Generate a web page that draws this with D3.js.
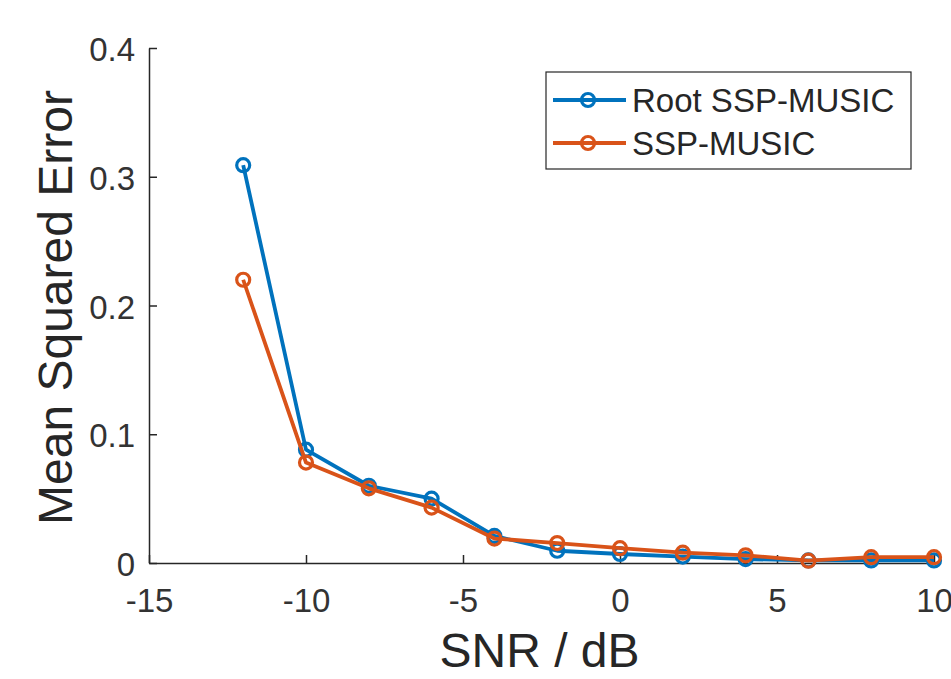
<!DOCTYPE html>
<html>
<head>
<meta charset="utf-8">
<script src="https://cdn.jsdelivr.net/npm/d3@7"></script>
<style>
  body { margin:0; background:#fff; }
  svg text { font-family: "Liberation Sans", Arial, sans-serif; fill:#262626; }
  .axis path, .axis line { stroke:#262626; stroke-width:1.5; }
  .axis text { font-size:33px; fill:#333; }
</style>
</head>
<body>
<svg id="msegraph"></svg>
<script>
// SNR values in dB
var snr = [-12,-10,-8,-6,-4,-2,0,2,4,6,8,10]
// mean squared error of each method
var rootSSP = [0.309,0.088,0.060,0.050,0.021,0.0095,0.007,0.005,0.003,0.002,0.002,0.002]
var ssp = [0.220,0.078,0.058,0.043,0.019,0.0155,0.0115,0.008,0.006,0.0018,0.0045,0.0045]
var xTicks = [-15,-10,-5,0,5,10]
var yTicks = [0,0.1,0.2,0.3,0.4]
var seriesNames = ["Root SSP-MUSIC","SSP-MUSIC"]
var seriesColors = ["#0072BD","#D95319"]

var initMseGraph = function()
{
    var screen = {width:951,height:679}
    var margins = {left:149,right:17,top:48,bottom:116}
    var graph = {
        width:screen.width-margins.left-margins.right,
        height:screen.height-margins.top-margins.bottom
    }

    var svg = d3.select("#msegraph")
                .attr("width",screen.width)
                .attr("height",screen.height)

    var xScale = d3.scaleLinear().domain([-15,10]).range([0,graph.width])
    var yScale = d3.scaleLinear().domain([0,0.4]).range([graph.height,0])

    var target = svg.append("g")
                    .attr("transform","translate("+margins.left+","+margins.top+")")

    //axes, ticks point inward like matlab
    var xAxis = d3.axisBottom(xScale).tickValues(xTicks).tickSizeInner(-8).tickSizeOuter(0)
                  .tickPadding(26).tickFormat(function(d){return String(d)})
    target.append("g")
          .classed("axis",true)
          .attr("transform","translate(0,"+graph.height+")")
          .call(xAxis)

    var yAxis = d3.axisLeft(yScale).tickValues(yTicks).tickSizeInner(-8).tickSizeOuter(0)
                  .tickPadding(14).tickFormat(function(d){return d==0?"0":d3.format(".1f")(d)})
    var yg = target.append("g")
          .classed("axis",true)
          .call(yAxis)
    yg.selectAll(".tick text").attr("dy","0.38em")

    target.selectAll(".axis .domain").attr("fill","none")

    //lines
    var data = [rootSSP,ssp]
    var line = d3.line()
                 .x(function(d,i){return xScale(snr[i])})
                 .y(function(d){return yScale(d)})

    data.forEach(function(values,k)
    {
        var g = target.append("g")
        g.append("path")
         .datum(values)
         .attr("d",line)
         .attr("fill","none")
         .attr("stroke",seriesColors[k])
         .attr("stroke-width",3.8)
         .attr("stroke-linejoin","round")
        g.selectAll("circle")
         .data(values)
         .enter()
         .append("circle")
         .attr("cx",function(d,i){return xScale(snr[i])})
         .attr("cy",function(d){return yScale(d)})
         .attr("r",6.5)
         .attr("fill","none")
         .attr("stroke",seriesColors[k])
         .attr("stroke-width",3.2)
    })

    //labels
    svg.append("text")
       .text("SNR / dB")
       .attr("text-anchor","middle")
       .attr("font-size",48)
       .attr("x",margins.left+graph.width/2 - 2)
       .attr("y",667)

    svg.append("g")
       .attr("transform","translate(72,"+(margins.top+graph.height/2+2)+")")
       .append("text")
       .text("Mean Squared Error")
       .attr("text-anchor","middle")
       .attr("font-size",48)
       .attr("transform","rotate(-90)")

    //legend
    var legend = svg.append("g")
                    .attr("transform","translate(546,72)")
    legend.append("rect")
          .attr("width",365)
          .attr("height",97)
          .attr("fill","#fff")
          .attr("stroke","#262626")
          .attr("stroke-width",1.2)

    var entries = legend.selectAll("g")
                        .data(seriesNames)
                        .enter()
                        .append("g")
                        .attr("transform",function(d,i){return "translate(0,"+(28+i*43)+")"})
    entries.append("line")
           .attr("x1",7).attr("x2",80)
           .attr("stroke",function(d,i){return seriesColors[i]})
           .attr("stroke-width",3.8)
    entries.append("circle")
           .attr("cx",42).attr("r",6.5)
           .attr("fill","none")
           .attr("stroke",function(d,i){return seriesColors[i]})
           .attr("stroke-width",3.2)
    entries.append("text")
           .text(function(d){return d})
           .attr("x",86)
           .attr("y",12)
           .attr("font-size",33)
}

initMseGraph()
</script>
</body>
</html>
